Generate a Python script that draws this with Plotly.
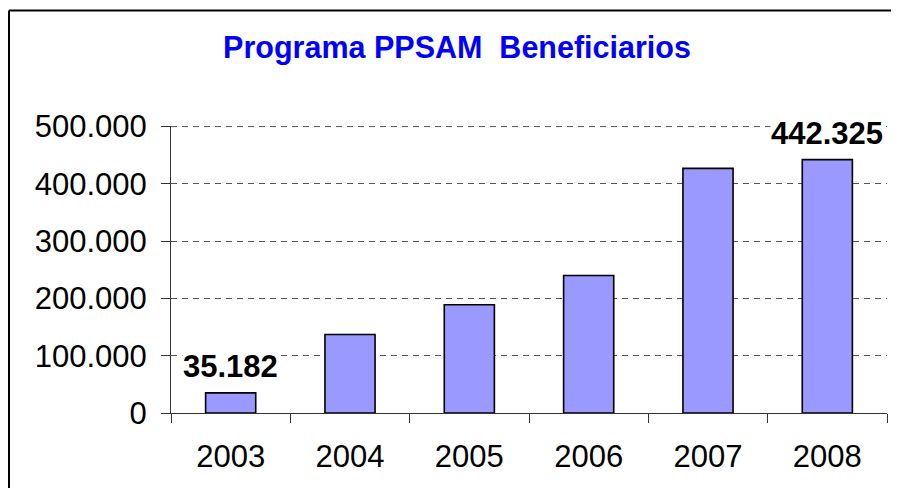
import plotly.graph_objects as go

years = ["2003", "2004", "2005", "2006", "2007", "2008"]
beneficiarios = [35182, 137000, 189000, 240000, 427000, 442325]
labeled_years = ["2003", "2008"]
y_ticks = [0, 100000, 200000, 300000, 400000, 500000]
title_text = "Programa PPSAM  Beneficiarios"

FONT = "Liberation Sans, Arial, sans-serif"

fig = go.Figure()
fig.add_trace(go.Bar(
    x=years, y=beneficiarios,
    marker=dict(color="#9999FF", line=dict(color="#000000", width=1.6)),
    hoverinfo="skip",
))

def fmt(v):
    return f"{v:,}".replace(",", ".")

annotations = []
for i, (yr, v) in enumerate(zip(years, beneficiarios)):
    if yr in labeled_years:
        annotations.append(dict(
            x=i, y=v, xref="x", yref="y", text=f"<b>{fmt(v)}</b>",
            showarrow=False, yanchor="bottom", yshift=8,
            bgcolor="white", borderpad=0,
            font=dict(family=FONT, size=31, color="#000000"),
        ))

W, H = 883, 480
L, R, T, B = 163, 4, 118, 75
pw = W - L - R
ph = H - T - B

def px_x(x):
    return (x - L) / pw

def px_y(y):
    return (H - B - y) / ph

GRID = "#555555"
DASH = "6px,5px"

shapes = [
    # top gridline (at the range edge, drawn explicitly)
    dict(type="line", xref="paper", yref="y", x0=0, x1=1,
         y0=y_ticks[-1], y1=y_ticks[-1],
         line=dict(color=GRID, width=1, dash=DASH), layer="below"),
    # outer frame: left and top edges
    dict(type="line", xref="paper", yref="paper",
         x0=px_x(1), x1=px_x(1), y0=px_y(H + 10), y1=px_y(2.5),
         line=dict(color="#000000", width=2), layer="above"),
    dict(type="line", xref="paper", yref="paper",
         x0=px_x(1), x1=px_x(W + 10), y0=px_y(2.5), y1=px_y(2.5),
         line=dict(color="#000000", width=2), layer="above"),
]

fig.update_layout(
    width=W, height=H,
    margin=dict(l=L, r=R, t=T, b=B, pad=0),
    paper_bgcolor="white", plot_bgcolor="white",
    separators=",.",
    showlegend=False,
    bargap=0.58,
    title=dict(text=f"<b>{title_text}</b>", xref="container", yref="container",
               x=449 / W, y=1 - 39.5 / H, xanchor="center", yanchor="middle",
               font=dict(family=FONT, size=30.5, color="#0000FF")),
    xaxis=dict(
        type="category", tickson="boundaries", ticks="outside", ticklen=9,
        tickcolor="#333333", tickwidth=1, range=[-0.5, len(years) - 0.5],
        autorange=False, ticklabelstandoff=16,
        showline=True, linecolor="#333333", linewidth=1,
        showgrid=False,
        tickfont=dict(family=FONT, size=31, color="#000000"),
    ),
    yaxis=dict(
        range=[0, 501000], autorange=False, tickvals=y_ticks,
        ticktext=[fmt(t) for t in y_ticks],
        ticks="outside", ticklen=9, tickcolor="#333333", tickwidth=1,
        ticklabelstandoff=8,
        showline=True, linecolor="#333333", linewidth=1,
        showgrid=True, gridcolor=GRID, gridwidth=1, griddash=DASH,
        zeroline=False,
        tickfont=dict(family=FONT, size=31, color="#000000"),
    ),
    annotations=annotations,
    shapes=shapes,
)

fig.write_html("out.html")
